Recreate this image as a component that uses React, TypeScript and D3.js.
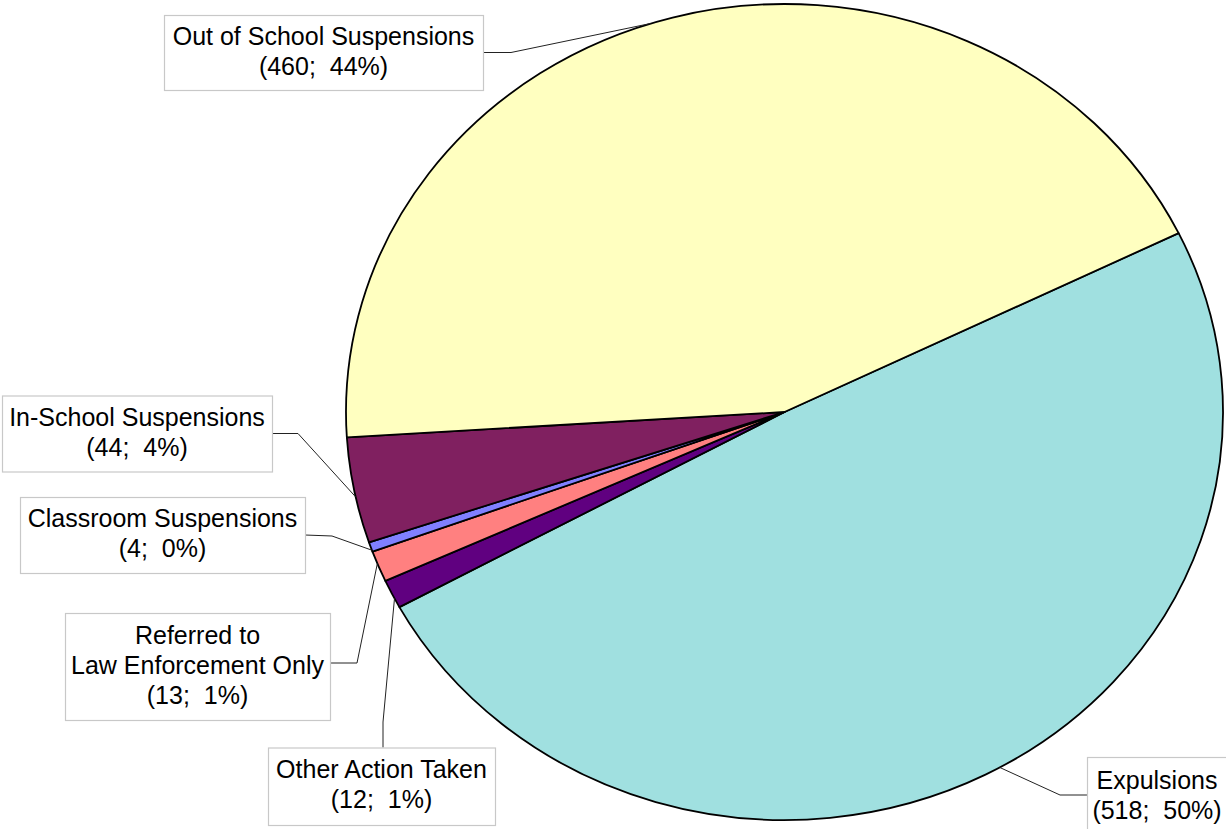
import React from 'react';
import * as d3 from 'd3';

// slice order follows the chart, clockwise from the Expulsions edge
const categories = [
  'Expulsions',
  'Other Action Taken',
  'Referred to Law Enforcement Only',
  'Classroom Suspensions',
  'In-School Suspensions',
  'Out of School Suspensions',
];
const counts = [518, 12, 13, 4, 44, 460];
const percents = ['50%', '1%', '1%', '0%', '4%', '44%'];
const labelLines = [
  ['Expulsions'],
  ['Other Action Taken'],
  ['Referred to', 'Law Enforcement Only'],
  ['Classroom Suspensions'],
  ['In-School Suspensions'],
  ['Out of School Suspensions'],
];
const colors = ['#a0e0e0', '#600080', '#ff8080', '#8080ff', '#802060', '#ffffc0'];

const W = 1226;
const H = 829;
const cx = 784.5;
const cy = 412;
const rx = 438.5;
const ry = 408;
const startDeg = 64;
const lineH = 30;

// label boxes and leader lines (layout only)
const boxes = [
  { x: 1087, y: 757, w: 150, h: 80, tx: 1157, leader: [[1087, 795], [1060, 795]], to: 150.6 },
  { x: 268, y: 747.5, w: 227, h: 77.5, leader: [[383, 747.5], [383, 722]], to: 242.8 },
  { x: 65, y: 613, w: 265, h: 107, leader: [[330, 663], [357, 663]], to: 248.2 },
  { x: 20, y: 497, w: 285, h: 76, leader: [[305, 535], [332, 536]], to: 250.2 },
  { x: 2, y: 395.5, w: 270, h: 76, leader: [[272, 433.5], [298, 433.5]], to: 258 },
  { x: 164, y: 15, w: 319, h: 75, leader: [[483, 52.5], [511, 52.5]], to: 342.2 },
];

const onEllipse = (deg: number): [number, number] => {
  const a = (deg * Math.PI) / 180;
  return [cx + rx * Math.sin(a), cy - ry * Math.cos(a)];
};

export default function App() {
  const pie = d3
    .pie<number>()
    .sort(null)
    .value((d) => d)
    .startAngle((startDeg * Math.PI) / 180)
    .endAngle(((startDeg + 360) * Math.PI) / 180);
  const arcs = pie(counts);
  const arc = d3.arc<d3.PieArcDatum<number>>().innerRadius(0).outerRadius(rx);
  const leaderLine = d3.line();

  return (
    <div style={{ position: 'absolute', left: 0, top: 0 }}>
      <svg width={W} height={H} style={{ display: 'block', background: '#fff' }}>
        <g transform={`translate(${cx},${cy}) scale(1,${ry / rx})`}>
          {arcs.map((a, i) => (
            <path
              key={categories[i]}
              d={arc(a) || ''}
              fill={colors[i]}
              stroke="#000"
              strokeWidth={1.8}
              strokeLinejoin="round"
              vectorEffect="non-scaling-stroke"
            />
          ))}
        </g>

        {boxes.map((b, i) => {
          const pts = [...b.leader, onEllipse(b.to)] as [number, number][];
          const lines = [...labelLines[i], `(${counts[i]};  ${percents[i]})`];
          const first = b.y + (b.h - lines.length * lineH) / 2 + 22;
          const tx = b.tx ?? b.x + b.w / 2;
          return (
            <g key={categories[i]}>
              <path d={leaderLine(pts) || ''} fill="none" stroke="#222" strokeWidth={1} />
              <rect
                x={b.x + 0.5}
                y={b.y + 0.5}
                width={b.w}
                height={b.h}
                fill="#fff"
                stroke="#c8c8c8"
                strokeWidth={1.2}
              />
              <text
                fontFamily="'Liberation Sans', Arial, sans-serif"
                fontSize={25}
                textAnchor="middle"
                fill="#000"
                style={{ whiteSpace: 'pre' }}
              >
                {lines.map((t, j) => (
                  <tspan key={j} x={tx} y={first + j * lineH}>
                    {t}
                  </tspan>
                ))}
              </text>
            </g>
          );
        })}
      </svg>
    </div>
  );
}
